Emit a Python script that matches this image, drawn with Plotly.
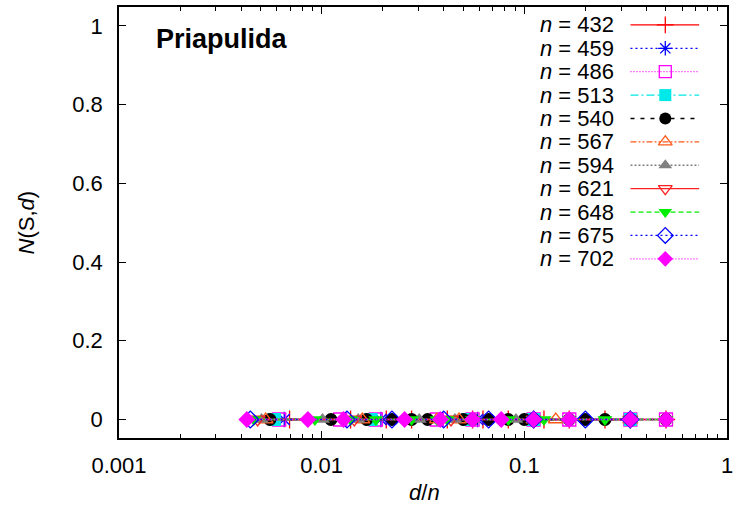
import plotly.graph_objects as go

# ---- data ----
n_values = [432, 459, 486, 513, 540, 567, 594, 621, 648, 675, 702]
# distances d (points plotted at d/n), all with N(S,d) = 0
d_432 = [3, 6, 9, 12, 18, 24, 27, 36, 48, 54, 72, 108, 144, 216]
d_459 = [3, 9, 27, 51, 153]
d_486 = [3, 6, 9, 18, 27, 54, 81, 162, 243]
d_513 = [3, 9, 27, 57, 171]
d_540 = [3, 6, 9, 12, 15, 18, 27, 30, 36, 45, 54, 60, 90, 108, 135, 180, 270]
d_567 = [3, 9, 21, 27, 63, 81, 189]
d_594 = [3, 6, 9, 18, 27, 33, 54, 66, 99, 198, 297]
d_621 = [3, 9, 27, 69, 207]
d_648 = [3, 6, 9, 12, 18, 24, 27, 36, 54, 72, 81, 108, 162, 216, 324]
d_675 = [3, 9, 15, 27, 45, 75, 135, 225]
d_702 = [3, 6, 9, 18, 27, 39, 54, 78, 117, 234, 351]
d_lists = [d_432, d_459, d_486, d_513, d_540, d_567, d_594, d_621, d_648, d_675, d_702]
N_432 = [0] * len(d_432)
N_459 = [0] * len(d_459)
N_486 = [0] * len(d_486)
N_513 = [0] * len(d_513)
N_540 = [0] * len(d_540)
N_567 = [0] * len(d_567)
N_594 = [0] * len(d_594)
N_621 = [0] * len(d_621)
N_648 = [0] * len(d_648)
N_675 = [0] * len(d_675)
N_702 = [0] * len(d_702)
N_lists = [N_432, N_459, N_486, N_513, N_540, N_567, N_594, N_621, N_648, N_675, N_702]

x_tickvals = [0.001, 0.01, 0.1, 1]
x_ticktext = ["0.001", "0.01", "0.1", "1"]
y_tickvals = [0, 0.2, 0.4, 0.6, 0.8, 1]
y_ticktext = ["0", "0.2", "0.4", "0.6", "0.8", "1"]
title_text = "Priapulida"

# ---- styles ----
styles = [
    dict(color="#ff0000", symbol="cross-thin", dash="solid", filled=False),
    dict(color="#0000ff", symbol="asterisk", dash="2px,3px", filled=False),
    dict(color="#ff00ff", symbol="square-open", dash="1px,2px", filled=False),
    dict(color="#00e8e8", symbol="square", dash="8px,3px,2px,3px", filled=True),
    dict(color="#000000", symbol="circle", dash="4px,6px", filled=True),
    dict(color="#ff5a1a", symbol="triangle-up-open", dash="6px,2px,2px,2px,2px,2px", filled=False),
    dict(color="#808080", symbol="triangle-up", dash="2px,2px", filled=True),
    dict(color="#ff2020", symbol="triangle-down-open", dash="solid", filled=False),
    dict(color="#00ee00", symbol="triangle-down", dash="5px,3px", filled=True),
    dict(color="#0000ff", symbol="diamond-open", dash="2px,3px", filled=False),
    dict(color="#ff00ff", symbol="diamond", dash="1px,2px", filled=True),
]

FONT = "Liberation Sans, Arial, Helvetica, sans-serif"
W, H = 738, 515
ML, MR, MT, MB = 119, 8, 5, 77
PW, PH = W - ML - MR, H - MT - MB

fig = go.Figure()


def marker_for(st, size):
    m = dict(symbol=st["symbol"], size=size, color=st["color"])
    if st["filled"]:
        m["line"] = dict(width=0)
    else:
        m["line"] = dict(width=1.3, color=st["color"])
    return m


for n, ds, Ns, st in zip(n_values, d_lists, N_lists, styles):
    fig.add_trace(go.Scatter(
        x=[d / n for d in ds], y=Ns, mode="lines+markers",
        line=dict(color=st["color"], width=1.3, dash=st["dash"]),
        marker=marker_for(st, 13),
        showlegend=False, xaxis="x", yaxis="y",
    ))

# ---- custom legend (text left, sample right) on an overlay axis in [0,1] ----
row0, step = 23, 23.5
for i, (n, st) in enumerate(zip(n_values, styles)):
    ypx = row0 + step * i
    yf = (MT + PH - ypx) / PH
    x0 = (633 - ML) / PW
    x1 = (702 - ML) / PW
    xm = (668 - ML) / PW
    fig.add_trace(go.Scatter(
        x=[x0, x1], y=[yf, yf], mode="lines",
        line=dict(color=st["color"], width=1.3, dash=st["dash"]),
        showlegend=False, xaxis="x2", yaxis="y2", hoverinfo="skip",
    ))
    fig.add_trace(go.Scatter(
        x=[xm], y=[yf], mode="markers", marker=marker_for(st, 12),
        showlegend=False, xaxis="x2", yaxis="y2", hoverinfo="skip",
    ))
    fig.add_annotation(
        x=(618 - ML) / PW, y=yf, xref="paper", yref="paper",
        text=f"<i>n</i> = {n}", showarrow=False, xanchor="right", yanchor="middle",
        font=dict(family=FONT, size=22, color="black"),
    )

fig.add_annotation(
    x=(154 - ML) / PW, y=(MT + PH - 37) / PH, xref="paper", yref="paper",
    text=f"<b>{title_text}</b>", showarrow=False, xanchor="left", yanchor="middle",
    font=dict(family=FONT, size=27, color="black"),
)
# axis titles
fig.add_annotation(
    x=(426 - ML) / PW, y=(MT + PH - 493) / PH, xref="paper", yref="paper",
    text="<i>d</i>/<i>n</i>", showarrow=False, xanchor="center", yanchor="middle",
    font=dict(family=FONT, size=22, color="black"),
)
fig.add_annotation(
    x=(26 - ML) / PW, y=(MT + PH - 221) / PH, xref="paper", yref="paper",
    text="<i>N</i>(S,<i>d</i>)", showarrow=False, xanchor="center", yanchor="middle",
    textangle=-90, font=dict(family=FONT, size=22, color="black"),
)

minor_x = [k * 10 ** e for e in (-3, -2, -1) for k in range(2, 10)]

fig.update_layout(
    width=W, height=H,
    margin=dict(l=ML, r=MR, t=MT, b=MB, pad=0),
    paper_bgcolor="white", plot_bgcolor="white",
    font=dict(family=FONT, size=22, color="black"),
    showlegend=False,
    xaxis=dict(
        type="log", range=[-3, 0], domain=[0, 1],
        tickvals=x_tickvals, ticktext=x_ticktext,
        ticks="inside", ticklen=7, tickwidth=1.2, tickcolor="black",
        showline=True, linecolor="black", linewidth=1.5, mirror="ticks",
        showgrid=False, zeroline=False, ticklabelstandoff=7,
        minor=dict(ticks="inside", ticklen=4, tickwidth=1, tickcolor="black",
                   tickvals=minor_x, showgrid=False),
    ),
    yaxis=dict(
        range=[-0.047, 1.048], domain=[0, 1],
        tickvals=y_tickvals, ticktext=y_ticktext,
        ticks="inside", ticklen=7, tickwidth=1.2, tickcolor="black",
        showline=True, linecolor="black", linewidth=1.5, mirror="ticks",
        showgrid=False, zeroline=False, ticklabelstandoff=10,
    ),
    xaxis2=dict(overlaying="x", range=[0, 1], visible=False, domain=[0, 1]),
    yaxis2=dict(overlaying="y", range=[0, 1], visible=False, domain=[0, 1]),
)

fig.write_html("out.html")
